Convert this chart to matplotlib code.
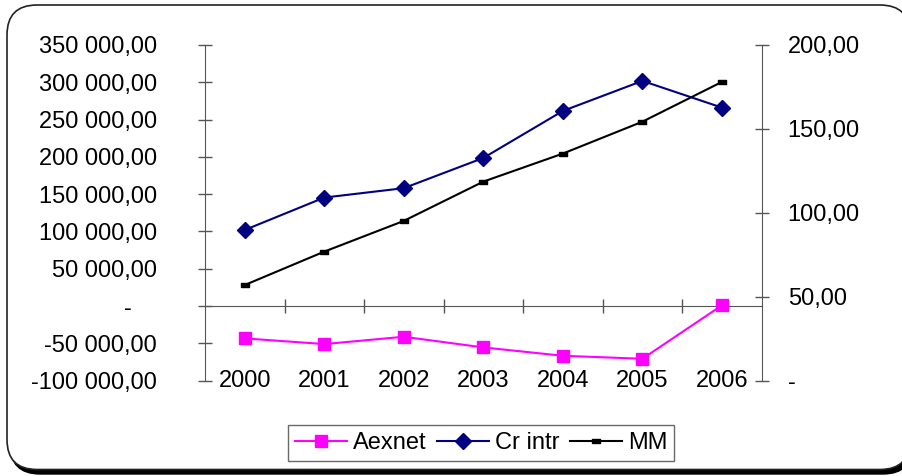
import matplotlib
matplotlib.use("Agg")
import matplotlib.pyplot as plt
from matplotlib.patches import FancyBboxPatch
import matplotlib.transforms as mtransforms

plt.rcParams["font.family"] = ["Liberation Sans", "DejaVu Sans"]

# data
years = ["2000", "2001", "2002", "2003", "2004", "2005", "2006"]
aexnet = [-43300, -50900, -41100, -55400, -66600, -70600, 1000]   # left axis
cr_intr = [89.8, 109.1, 114.7, 132.7, 160.7, 178.6, 162.7]        # right axis
mm = [57.0, 76.9, 95.2, 118.6, 135.3, 154.3, 178.0]               # right axis

left_ticks = [-100000, -50000, 0, 50000, 100000, 150000, 200000, 250000, 300000, 350000]
left_labels = ["-100 000,00", "-50 000,00", "", "50 000,00", "100 000,00",
               "150 000,00", "200 000,00", "250 000,00", "300 000,00", "350 000,00"]
right_ticks = [0, 50, 100, 150, 200]
right_labels = ["-", "50,00", "100,00", "150,00", "200,00"]

fs = 17
axis_col = "#555555"

fig = plt.figure(figsize=(9.03, 4.76), dpi=100)

# rounded frame with shadow
shadow = FancyBboxPatch((0.10, 0.02), 9.03, 4.62,
                        boxstyle="round,pad=0,rounding_size=0.3",
                        transform=fig.dpi_scale_trans, facecolor="black",
                        edgecolor="black", zorder=-2)
frame = FancyBboxPatch((0.07, 0.065), 9.03, 4.645,
                       boxstyle="round,pad=0,rounding_size=0.3",
                       transform=fig.dpi_scale_trans, facecolor="white",
                       edgecolor="#222222", linewidth=1.2, zorder=-1)
fig.patches.extend([shadow, frame])

x = list(range(len(years)))

ax = fig.add_axes([0.227, 0.2002, 0.6165, 0.7053])
ax.set_facecolor("none")
ax.set_xlim(-0.5, len(years) - 0.5)
ax.set_ylim(-100000, 350000)

ax2 = ax.twinx()
ax2.set_ylim(0, 200)

l1, = ax.plot(x, aexnet, color="#FF00FF", lw=1.5, marker="s", markersize=8,
              label="Aexnet", clip_on=False, zorder=3)
l2, = ax2.plot(x, cr_intr, color="#000080", lw=1.5, marker="D", markersize=8.5,
               label="Cr intr", clip_on=False, zorder=3)
mm_marker = [(-1, -0.45), (1, -0.45), (1, 0.45), (-1, 0.45), (-1, -0.45)]
l3, = ax2.plot(x, mm, color="black", lw=1.5, marker=mm_marker, markersize=6,
               label="MM", clip_on=False, zorder=3)

# spines
for s in ["top", "right"]:
    ax.spines[s].set_visible(False)
ax.spines["bottom"].set_position(("data", 0))
ax.spines["bottom"].set_color(axis_col)
ax.spines["left"].set_color(axis_col)
for s in ["top", "bottom", "left"]:
    ax2.spines[s].set_visible(False)
ax2.spines["right"].set_color(axis_col)

# left axis
ax.set_yticks(left_ticks)
ax.set_yticklabels(left_labels)
ax.tick_params(axis="y", direction="inout", length=10, width=1, color=axis_col,
               pad=29.5, labelsize=fs)
ax.text(-0.1317, 0, "-", transform=mtransforms.blended_transform_factory(ax.transAxes, ax.transData),
        ha="right", va="center_baseline", fontsize=fs)

# category axis at zero
ax.set_xticks([i + 0.5 for i in x[:-1]])
ax.tick_params(axis="x", direction="inout", length=10, width=1, color=axis_col,
               labelbottom=False)
for i, yr in zip(x, years):
    ax.text(i, -0.0179, yr, transform=ax.get_xaxis_transform(),
            ha="center", va="baseline", fontsize=fs)

# right axis
ax2.set_yticks(right_ticks)
ax2.set_yticklabels(right_labels)
ax2.tick_params(axis="y", direction="inout", length=10, width=1, color=axis_col,
                pad=13.7, labelsize=fs)

leg = fig.legend([l1, l2, l3], ["Aexnet", "Cr intr", "MM"], loc="center",
                 bbox_to_anchor=(0.533, 0.0687), ncol=3, fontsize=fs,
                 frameon=True, fancybox=False, edgecolor="#444444",
                 handlelength=2.2, handletextpad=0.26, columnspacing=0.43,
                 borderpad=0.3, borderaxespad=0)
leg.get_frame().set_linewidth(1)

fig.savefig("out.png", dpi=100)
